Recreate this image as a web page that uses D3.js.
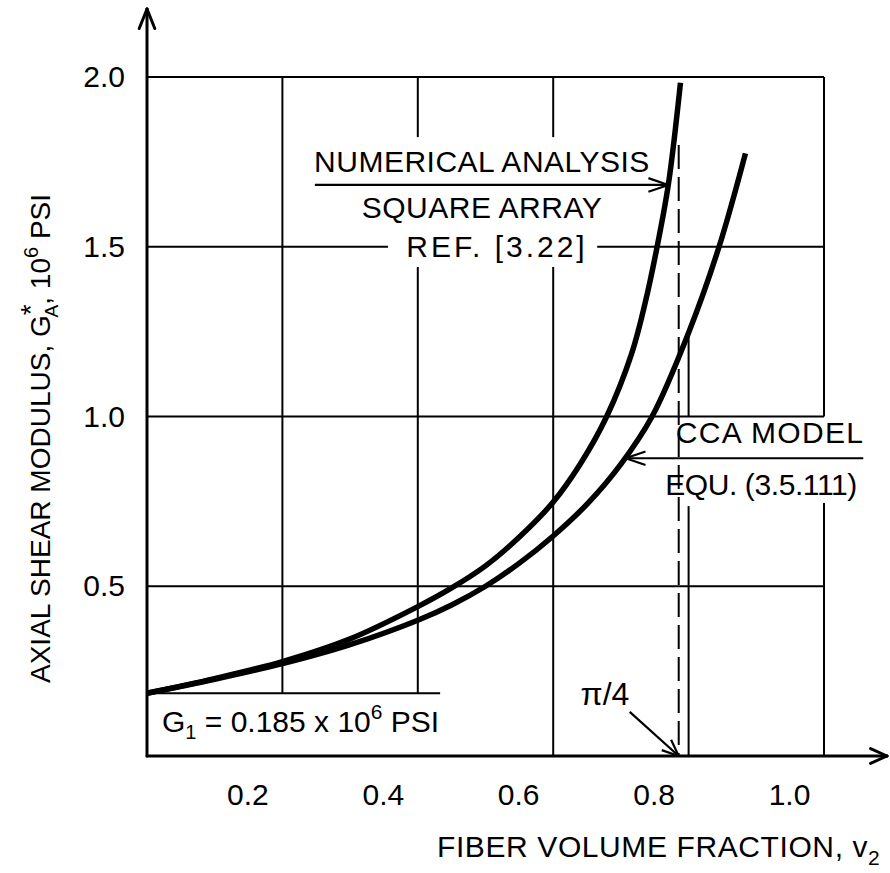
<!DOCTYPE html>
<html>
<head>
<meta charset="utf-8">
<script src="https://cdn.jsdelivr.net/npm/d3@7"></script>
<style>
  body { margin: 0; background: #fff; }
  svg text { font-family: "Liberation Sans", Arial, sans-serif; fill: #000; }
</style>
</head>
<body>
<svg id="chart" width="890" height="873"></svg>
<script>
// fiber volume fraction v2 vs axial shear modulus (10^6 psi)
const num_v = [0, 0.1, 0.2, 0.3, 0.4, 0.45, 0.5, 0.55, 0.6, 0.64, 0.679, 0.716, 0.736, 0.753, 0.77, 0.788];
const num_g = [0.185, 0.228, 0.278, 0.345, 0.44, 0.495, 0.56, 0.645, 0.748, 0.86, 1.0, 1.186, 1.336, 1.495, 1.682, 1.983];

const cca_v = [0, 0.1, 0.2, 0.3, 0.4, 0.45, 0.5, 0.55, 0.6, 0.65, 0.7, 0.746, 0.8, 0.845, 0.884];
const cca_g = [0.185, 0.226, 0.272, 0.328, 0.4, 0.445, 0.5, 0.568, 0.648, 0.742, 0.86, 1.0, 1.247, 1.5, 1.775];

const x_ticks = [0.2, 0.4, 0.6, 0.8, 1.0];
const x_tick_labels = ["0.2", "0.4", "0.6", "0.8", "1.0"];
const y_ticks = [0.5, 1.0, 1.5, 2.0];
const y_tick_labels = ["0.5", "1.0", "1.5", "2.0"];

const g_matrix = 0.185;
const pi_quarter = Math.PI / 4;

const svg = d3.select("#chart");
const x = d3.scaleLinear().domain([0, 1]).range([147, 824]);
const y = d3.scaleLinear().domain([0, 2]).range([756, 77]);

// grid, broken where the labels sit
const v_grid = [
  { v: 0.2, parts: [[g_matrix, 2]] },
  { v: 0.4, parts: [[g_matrix, 1.44], [1.823, 2]] },
  { v: 0.6, parts: [[0, 1.44], [1.823, 2]] },
  { v: 0.8, parts: [[0, 0.736], [1.0, 1.247]] },
  { v: 1.0, parts: [[0, 0.745], [1.0, 2]] },
];
const h_grid = [
  { g: 2.0, parts: [[0, 1]] },
  { g: 1.5, parts: [[0, 0.356], [0.665, 1]] },
  { g: 1.0, parts: [[0, 1]] },
  { g: 0.5, parts: [[0, 1]] },
  { g: g_matrix, parts: [[0, 0.433]] },
];

const grid = svg.append("g").attr("stroke", "#000").attr("stroke-width", 2);
v_grid.forEach((d) => {
  d.parts.forEach((p) => {
    grid.append("line")
      .attr("x1", x(d.v)).attr("x2", x(d.v))
      .attr("y1", y(p[0])).attr("y2", y(p[1]));
  });
});
h_grid.forEach((d) => {
  d.parts.forEach((p) => {
    grid.append("line")
      .attr("x1", x(p[0])).attr("x2", x(p[1]))
      .attr("y1", y(d.g)).attr("y2", y(d.g));
  });
});

// pi/4 dashed line
svg.append("line")
  .attr("x1", x(pi_quarter)).attr("x2", x(pi_quarter))
  .attr("y1", y(1.8)).attr("y2", y(0))
  .attr("stroke", "#000").attr("stroke-width", 2)
  .attr("stroke-dasharray", "24,8");

// axes
function arrow_head(g, tip, from, len, spread) {
  const ang = Math.atan2(tip[1] - from[1], tip[0] - from[0]);
  [-spread, spread].forEach((s) => {
    const a = ang + Math.PI + s;
    g.append("line")
      .attr("x1", tip[0]).attr("y1", tip[1])
      .attr("x2", tip[0] + len * Math.cos(a))
      .attr("y2", tip[1] + len * Math.sin(a));
  });
}

const axes = svg.append("g").attr("stroke", "#000").attr("stroke-width", 3)
  .attr("stroke-linecap", "round");
axes.append("line").attr("x1", x(0)).attr("x2", 887).attr("y1", y(0)).attr("y2", y(0));
axes.append("line").attr("x1", x(0)).attr("x2", x(0)).attr("y1", y(0)).attr("y2", 9);
arrow_head(axes, [887, y(0)], [x(0), y(0)], 18, 0.42);
arrow_head(axes, [x(0), 9], [x(0), y(0)], 21, 0.38);

const x_axis = svg.append("g")
  .attr("transform", `translate(0, ${y(0)})`)
  .call(d3.axisBottom(x).tickValues(x_ticks)
    .tickFormat((d, i) => x_tick_labels[i]).tickSize(0).tickPadding(28));
x_axis.select(".domain").remove();
x_axis.selectAll(".tick text")
  .attr("dx", -35).attr("font-size", 30)
  .attr("font-family", "Liberation Sans, Arial, sans-serif");

const y_axis = svg.append("g")
  .attr("transform", `translate(${x(0)}, 0)`)
  .call(d3.axisLeft(y).tickValues(y_ticks)
    .tickFormat((d, i) => y_tick_labels[i]).tickSize(0).tickPadding(22));
y_axis.select(".domain").remove();
y_axis.selectAll(".tick text")
  .attr("font-size", 30)
  .attr("font-family", "Liberation Sans, Arial, sans-serif");

// curves
const line = d3.line()
  .x((d) => x(d[0]))
  .y((d) => y(d[1]))
  .curve(d3.curveCatmullRom.alpha(0.5));

const curves = [d3.zip(num_v, num_g), d3.zip(cca_v, cca_g)];
svg.append("g").selectAll("path")
  .data(curves)
  .join("path")
  .attr("d", line)
  .attr("fill", "none")
  .attr("stroke", "#000")
  .attr("stroke-width", 5.5);

// annotations
const notes = svg.append("g").attr("stroke", "#000").attr("stroke-width", 2.2)
  .attr("fill", "none");

// numerical analysis arrow
const num_tip = [x(0.770), y(1.682)];
notes.append("line").attr("x1", x(0.248)).attr("x2", num_tip[0])
  .attr("y1", num_tip[1]).attr("y2", num_tip[1]);
arrow_head(notes, num_tip, [x(0.248), num_tip[1]], 21, 0.33);

// cca arrow
const cca_tip = [x(0.707), y(0.877)];
notes.append("line").attr("x1", x(1.058)).attr("x2", cca_tip[0])
  .attr("y1", cca_tip[1]).attr("y2", cca_tip[1]);
arrow_head(notes, cca_tip, [x(1.058), cca_tip[1]], 21, 0.33);

// pi/4 arrow
const pi_tip = [x(pi_quarter), y(0)];
const pi_from = [x(0.713), y(0.13)];
notes.append("line").attr("x1", pi_from[0]).attr("y1", pi_from[1])
  .attr("x2", pi_tip[0]).attr("y2", pi_tip[1]);
arrow_head(notes, pi_tip, pi_from, 18, 0.4);

const labels = svg.append("g").attr("font-size", 30);
labels.append("text").attr("x", 482).attr("y", 172).attr("text-anchor", "middle")
  .attr("letter-spacing", 0.5).text("NUMERICAL ANALYSIS");
labels.append("text").attr("x", 482).attr("y", 218).attr("text-anchor", "middle")
  .attr("letter-spacing", 0.5).text("SQUARE ARRAY");
labels.append("text").attr("x", 497).attr("y", 257).attr("text-anchor", "middle")
  .attr("letter-spacing", 3).text("REF. [3.22]");
labels.append("text").attr("x", 770).attr("y", 443).attr("text-anchor", "middle")
  .attr("letter-spacing", 1.3).text("CCA MODEL");
labels.append("text").attr("x", 761).attr("y", 495).attr("text-anchor", "middle")
  .attr("letter-spacing", -0.4).text("EQU. (3.5.111)");
labels.append("text").attr("x", 605).attr("y", 705).attr("text-anchor", "middle")
  .attr("font-size", 32).text("\u03c0/4");

const g1 = labels.append("text").attr("x", 162).attr("y", 732);
g1.append("tspan").text("G");
g1.append("tspan").attr("font-size", 20).attr("dy", 7).text("1");
g1.append("tspan").attr("dy", -7).text(" = 0.185 x 10");
g1.append("tspan").attr("font-size", 21).attr("dy", -13).text("6");
g1.append("tspan").attr("dy", 13).text(" PSI");

const x_title = labels.append("text").attr("x", 437).attr("y", 857)
  .attr("letter-spacing", 0.6);
x_title.append("tspan").text("FIBER VOLUME FRACTION, v");
x_title.append("tspan").attr("font-size", 21).attr("dy", 8).text("2");

const y_title = labels.append("text")
  .attr("font-size", 28)
  .attr("transform", "translate(50, 683) rotate(-90)");
y_title.append("tspan").text("AXIAL SHEAR MODULUS, G");
y_title.append("tspan").attr("font-size", 28).attr("dy", -10).text("*");
y_title.append("tspan").attr("font-size", 19).attr("dx", -13).attr("dy", 18).text("A");
y_title.append("tspan").attr("dy", -8).text(", 10");
y_title.append("tspan").attr("font-size", 20).attr("dy", -12).text("6");
y_title.append("tspan").attr("dy", 12).text(" PSI");
</script>
</body>
</html>
